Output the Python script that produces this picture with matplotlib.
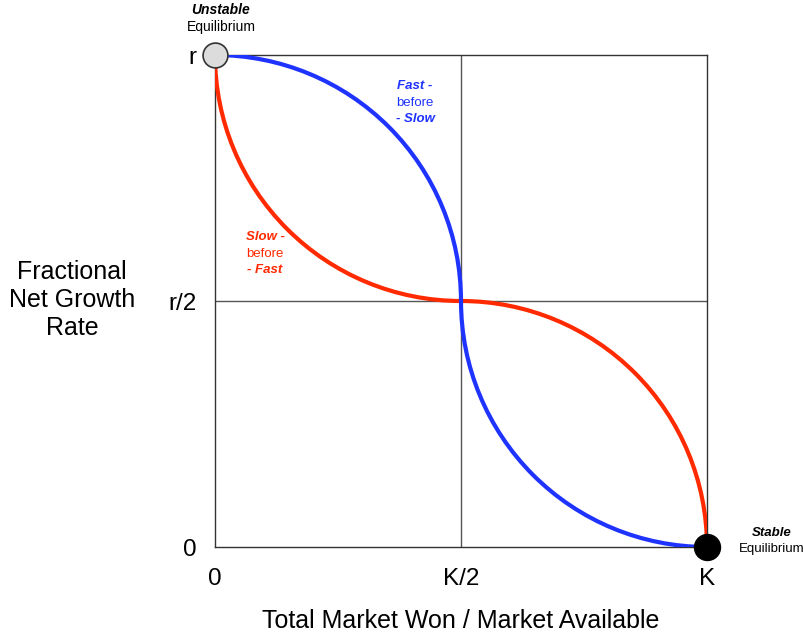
import matplotlib
matplotlib.use("Agg")
import matplotlib.pyplot as plt
from matplotlib.patches import Arc

plt.rcParams['font.family'] = ['Liberation Sans', 'DejaVu Sans']

# Axis positions (K = market available, r = maximum growth rate), normalised to 1
x_ticks = [0.0, 0.5, 1.0]
x_tick_labels = ['0', 'K/2', 'K']
y_ticks = [0.0, 0.5, 1.0]
y_tick_labels = ['0', 'r/2', 'r']

# Each curve is built from two quarter-ellipse arcs: (centre x, centre y, start angle, end angle)
fast_before_slow = [(0.0, 0.5, 0, 90), (1.0, 0.5, 180, 270)]
slow_before_fast = [(0.5, 1.0, 180, 270), (0.5, 0.0, 0, 90)]
arc_half_width = 0.5   # K/2
arc_half_height = 0.5  # r/2

# Equilibrium points
unstable_pt = (0.0, 1.0)
stable_pt = (1.0, 0.0)

blue = '#1f33ff'
red = '#ff2a00'

fig = plt.figure(figsize=(8.04, 6.39), dpi=100)
ax = fig.add_axes([215 / 804, 92 / 639, 492 / 804, 492 / 639])
ax.set_xlim(0, 1)
ax.set_ylim(0, 1)

for s in ax.spines.values():
    s.set_color('#333333')
    s.set_linewidth(1.0)

ax.axvline(x_ticks[1], color='#555555', lw=1.0, zorder=1)
ax.axhline(y_ticks[1], color='#555555', lw=1.0, zorder=1)

for cx, cy, a0, a1 in slow_before_fast:
    ax.add_patch(Arc((cx, cy), 2 * arc_half_width, 2 * arc_half_height,
                     theta1=a0, theta2=a1, color=red, lw=3.0, zorder=3))
for cx, cy, a0, a1 in fast_before_slow:
    ax.add_patch(Arc((cx, cy), 2 * arc_half_width, 2 * arc_half_height,
                     theta1=a0, theta2=a1, color=blue, lw=3.0, zorder=4))

ax.scatter([unstable_pt[0]], [unstable_pt[1]], s=320, facecolor='#dcdcdc',
           edgecolor='#333333', linewidth=1.2, zorder=6, clip_on=False)
ax.scatter([stable_pt[0]], [stable_pt[1]], s=350, facecolor='black',
           edgecolor='black', zorder=6, clip_on=False)

ax.set_xticks(x_ticks)
ax.set_xticklabels(x_tick_labels, fontsize=17.5)
ax.set_yticks(y_ticks)
ax.set_yticklabels(y_tick_labels, fontsize=17.5)
ax.tick_params(axis='both', length=0)
ax.tick_params(axis='x', pad=15)
ax.tick_params(axis='y', pad=13.5)

ax.set_xlabel('Total Market Won / Market Available', fontsize=18, labelpad=14)
fig.text(72 / 804, 1 - 300 / 639, 'Fractional\nNet Growth\nRate', fontsize=18,
         ha='center', va='center', linespacing=1.2)

# Curve annotations
def stacked_label(x, y, top, mid, bot, color):
    kw = dict(ha='center', va='center', fontsize=9.5, color=color, transform=ax.transAxes)
    ax.text(x, y, top, fontweight='bold', style='italic', **kw)
    ax.text(x, y - 0.034, mid, **kw)
    ax.text(x, y - 0.068, bot, fontweight='bold', style='italic', **kw)

stacked_label((415 - 215) / 492, (547 - 86) / 492, 'Fast -', 'before', '- Slow', blue)
stacked_label((265 - 215) / 492, (547 - 237) / 492, 'Slow -', 'before', '- Fast', red)

fig.text(221 / 804, 1 - 10 / 639, 'Unstable', fontsize=10, fontweight='bold',
         style='italic', ha='center', va='center')
fig.text(221 / 804, 1 - 27 / 639, 'Equilibrium', fontsize=10, ha='center', va='center')
fig.text(772 / 804, 1 - 533 / 639, 'Stable', fontsize=9.5, fontweight='bold',
         style='italic', ha='center', va='center')
fig.text(772 / 804, 1 - 549 / 639, 'Equilibrium', fontsize=9.5, ha='center', va='center')

fig.savefig('out.png', dpi=100)
